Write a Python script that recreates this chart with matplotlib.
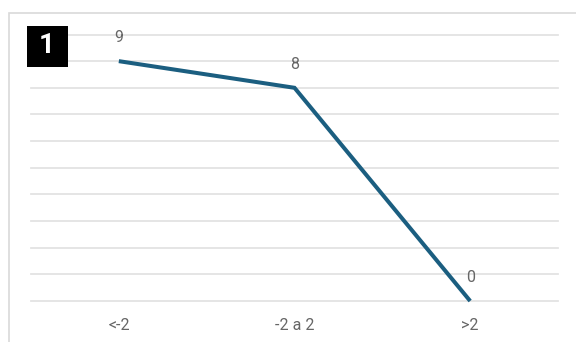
import matplotlib
matplotlib.use("Agg")
import matplotlib.pyplot as plt
from matplotlib.patches import Rectangle

categories = ["<-2", "-2 a 2", ">2"]
values = [9, 8, 0]

W, H = 576, 342
PX = 72 / 100  # points per pixel at 100 dpi
fig = plt.figure(figsize=(W / 100, H / 100), dpi=100)

# outer frame of the chart area
fig.patches.append(Rectangle((8.5 / W, -0.1), 1.2, 1 - 12.5 / H + 0.1,
                             transform=fig.transFigure, fill=False,
                             edgecolor="#d9d9d9", linewidth=1.2))

ax = fig.add_axes([31 / W, (H - 301) / H, (558 - 31) / W, (301 - 34.5) / H])
x = list(range(len(categories)))
ax.plot(x, values, color="#1b5e80", linewidth=2.9, solid_capstyle="butt",
        solid_joinstyle="miter", zorder=3, clip_on=False)

for xi, v in zip(x, values):
    ax.annotate(str(v), (xi, v), xytext=(0, 19 * PX), textcoords="offset points",
                ha="center", va="baseline", fontsize=11.5, color="#666666",
                family="Roboto")

ax.set_xlim(-0.5, len(categories) - 0.5)
ax.set_ylim(0, 10)
ax.set_yticks(range(0, 11))
ax.yaxis.grid(True, color="#e3e3e3", linewidth=1.3)
for gl in ax.get_ygridlines():
    gl.set_clip_on(False)
ax.set_axisbelow(True)
ax.tick_params(axis="y", length=0, labelleft=False)
ax.tick_params(axis="x", length=0, pad=29 * PX, labelsize=11.5, labelcolor="#666666")
ax.set_xticks(x)
ax.set_xticklabels(categories, family="Roboto", va="baseline")
for s in ax.spines.values():
    s.set_visible(False)

# numbered badge in the corner
fig.patches.append(Rectangle((27 / W, 1 - 67 / H), 41 / W, 41 / H,
                             transform=fig.transFigure, facecolor="black",
                             edgecolor="none"))
fig.text(47 / W, 1 - 53.3 / H, "1", color="white", fontsize=20,
         fontweight="bold", family="Roboto", ha="center", va="baseline")

fig.savefig("out.png", dpi=100)
